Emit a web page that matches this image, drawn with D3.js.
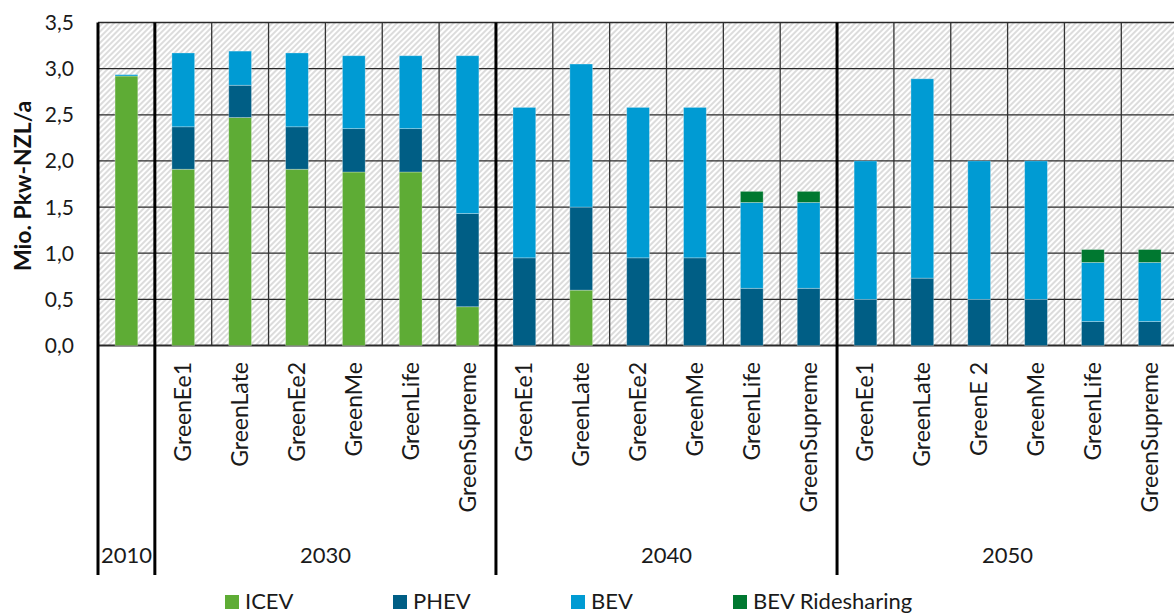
<!DOCTYPE html>
<html><head><meta charset="utf-8">
<script src="https://cdn.jsdelivr.net/npm/d3@7"></script>
<style>
html,body{margin:0;padding:0;background:#fff;}
svg{display:block;font-family:Lato,"Open Sans",sans-serif;}
</style></head>
<body><svg id="chart" width="1174" height="614"></svg>
<script>
// ---- data ----
const categories = ["", "GreenEe1","GreenLate","GreenEe2","GreenMe","GreenLife","GreenSupreme",
  "GreenEe1","GreenLate","GreenEe2","GreenMe","GreenLife","GreenSupreme",
  "GreenEe1","GreenLate","GreenE 2","GreenMe","GreenLife","GreenSupreme"];
const years = ["2010","2030","2040","2050"];
const yearSizes = [1,6,6,6];
const seriesNames = ["ICEV","PHEV","BEV","BEV Ridesharing"];
const icev = [2.92, 1.91,2.47,1.91,1.88,1.88,0.42, 0,0.60,0,0,0,0, 0,0,0,0,0,0];
const phev = [0, 0.46,0.35,0.46,0.47,0.47,1.01, 0.95,0.90,0.95,0.95,0.62,0.62, 0.50,0.73,0.50,0.50,0.26,0.26];
const bev  = [0.015, 0.80,0.37,0.80,0.79,0.79,1.71, 1.63,1.55,1.63,1.63,0.93,0.93, 1.50,2.16,1.50,1.50,0.64,0.64];
const ride = [0, 0,0,0,0,0,0, 0,0,0,0,0.12,0.12, 0,0,0,0,0.14,0.14];
const yTicks = [0,0.5,1.0,1.5,2.0,2.5,3.0,3.5];
const yTitle = "Mio. Pkw-NZL/a";

// ---- layout / style ----
const colors = ["#5eac35","#005e85","#009bd3","#007830"];
const plotLeft = 98, step = 56.85, plotTop = 22.5, zeroY = 345.5, axisBottom = 575;
const legendX = [225, 393, 571, 733];

const svg = d3.select("#chart");
const defs = svg.append("defs");
const pat = defs.append("pattern").attr("id","hatch").attr("patternUnits","userSpaceOnUse")
  .attr("width",4).attr("height",4).attr("patternTransform","rotate(45)");
pat.append("rect").attr("width",4).attr("height",4).attr("fill","#ffffff");
pat.append("line").attr("x1",1).attr("y1",0).attr("x2",1).attr("y2",4)
  .attr("stroke","#cdcdcd").attr("stroke-width",1.4);

const n = categories.length;
const x = d3.scaleBand().domain(d3.range(n)).range([plotLeft, plotLeft + step*n])
  .paddingInner(0.6).paddingOuter(0.3);
const y = d3.scaleLinear().domain([0,3.5]).range([zeroY, plotTop]);

// plot background
svg.append("rect").attr("x",plotLeft).attr("y",plotTop).attr("width",step*n).attr("height",zeroY-plotTop)
  .attr("fill","url(#hatch)");

// horizontal gridlines
svg.append("g").selectAll("line").data(yTicks).join("line")
  .attr("x1",plotLeft).attr("x2",plotLeft+step*n)
  .attr("y1",d=>y(d)).attr("y2",d=>y(d))
  .attr("stroke","#2a2a2a").attr("stroke-width",d=>d===0?2:1.3);

// vertical thin gridlines between categories
svg.append("g").selectAll("line").data(d3.range(1,n+1)).join("line")
  .attr("x1",d=>plotLeft+d*x.step()).attr("x2",d=>plotLeft+d*x.step())
  .attr("y1",plotTop).attr("y2",zeroY)
  .attr("stroke","#333").attr("stroke-width",1.3);

// stacked bars
const table = categories.map((c,i)=>({i, ICEV:icev[i], PHEV:phev[i], BEV:bev[i], "BEV Ridesharing":ride[i]}));
const stack = d3.stack().keys(seriesNames)(table);
svg.append("g").selectAll("g").data(stack).join("g")
  .attr("fill",(d,k)=>colors[k])
  .selectAll("rect").data(d=>d.filter(v=>v[1]-v[0]>0)).join("rect")
  .attr("x",d=>x(d.data.i)).attr("width",x.bandwidth())
  .attr("y",d=>y(d[1])).attr("height",d=>y(d[0])-y(d[1]))
  .attr("stroke","rgba(255,255,255,0.35)").attr("stroke-width",0.8);

// group separators (thick)
let acc = 0;
const seps = [0];
yearSizes.forEach(s=>{acc+=s; seps.push(acc);});
svg.append("g").selectAll("line").data(seps.slice(0,-1)).join("line")
  .attr("x1",d=>plotLeft+d*x.step()).attr("x2",d=>plotLeft+d*x.step())
  .attr("y1",plotTop).attr("y2",axisBottom)
  .attr("stroke","#000").attr("stroke-width",3);

// category labels
svg.append("g").selectAll("text").data(categories.map((c,i)=>({c,i})).filter(d=>d.c)).join("text")
  .attr("transform",d=>`translate(${x(d.i)+x.bandwidth()/2+8},362) rotate(-90)`)
  .attr("text-anchor","end")
  .attr("font-size",23).attr("fill","#1a1a1a")
  .text(d=>d.c);

// year labels
svg.append("g").selectAll("text").data(years).join("text")
  .attr("x",(d,k)=>plotLeft + (seps[k]+seps[k+1])/2*x.step())
  .attr("y",563).attr("text-anchor","middle")
  .attr("font-size",22).attr("fill","#1a1a1a").text(d=>d);

// y tick labels
const fmt = d3.format(".1f");
svg.append("g").selectAll("text").data(yTicks).join("text")
  .attr("x",74).attr("y",d=>y(d)).attr("dy","0.36em").attr("text-anchor","end")
  .attr("font-size",21).attr("fill","#1a1a1a").text(d=>fmt(d).replace(".",","));

// y title
svg.append("text").attr("transform","translate(31,186) rotate(-90)")
  .attr("text-anchor","middle").attr("font-size",23).attr("font-weight","bold")
  .attr("fill","#111").text(yTitle);

// legend
const lg = svg.append("g").selectAll("g").data(seriesNames).join("g")
  .attr("transform",(d,k)=>`translate(${legendX[k]},0)`);
lg.append("rect").attr("x",0).attr("y",595).attr("width",14).attr("height",14).attr("fill",(d,k)=>colors[k]);
lg.append("text").attr("x",20).attr("y",609).attr("font-size",22).attr("fill","#1a1a1a").text(d=>d);
</script></body></html>
